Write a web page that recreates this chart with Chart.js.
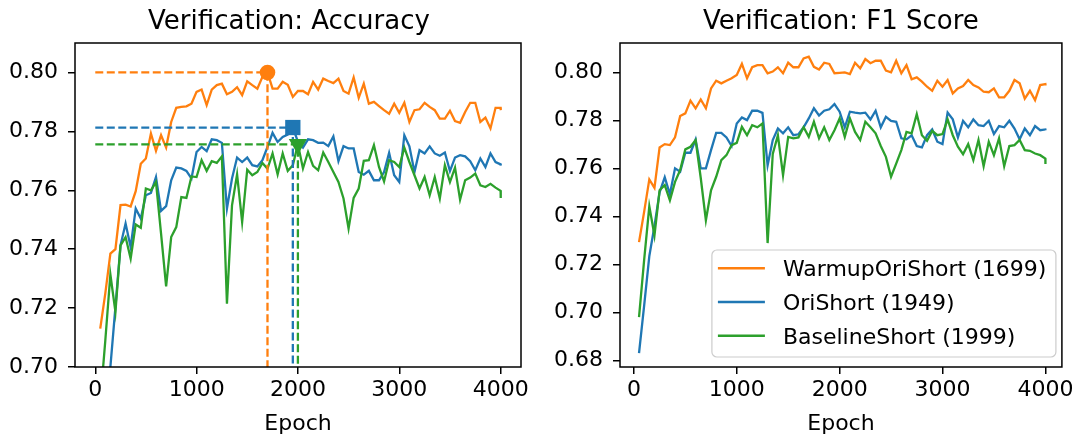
<!DOCTYPE html>
<html>
<head>
<meta charset="utf-8">
<script src="https://cdn.jsdelivr.net/npm/chart.js@4.4.1/dist/chart.umd.min.js"></script>
<style>
  html, body { margin: 0; padding: 0; background: #fff; }
  #wrap { position: relative; width: 1077px; height: 441px; }
  canvas { position: absolute; top: 0; }
  #acc { left: 0; }
  #f1 { left: 545px; }
</style>
</head>
<body>
<div id="wrap">
  <canvas id="acc" width="545" height="441"></canvas>
  <canvas id="f1" width="532" height="441"></canvas>
</div>
<script>
// epochs at which the model was evaluated
const epochs = [49,99,149,199,249,299,349,399,449,499,549,599,649,699,749,799,849,899,949,999,
  1049,1099,1149,1199,1249,1299,1349,1399,1449,1499,1549,1599,1649,1699,1749,1799,1849,1899,1949,1999,
  2049,2099,2149,2199,2249,2299,2349,2399,2449,2499,2549,2599,2649,2699,2749,2799,2849,2899,2949,2999,
  3049,3099,3149,3199,3249,3299,3349,3399,3449,3499,3549,3599,3649,3699,3749,3799,3849,3899,3949,3999,4000];

const seriesNames = ['WarmupOriShort (1699)', 'OriShort (1949)', 'BaselineShort (1999)'];
const colors = ['#ff7f0e', '#1f77b4', '#2ca02c'];

// verification accuracy
const accWarmup = [0.713,0.725,0.7385,0.740,0.755,0.7551,0.7545,0.7597,0.769,0.7708,
  0.7793,0.7734,0.7787,0.7745,0.7832,0.788,0.7883,0.7885,0.7894,0.7934,
  0.7942,0.7889,0.7942,0.7957,0.7962,0.7926,0.7934,0.795,0.7923,0.797,
  0.7957,0.7945,0.7985,0.800,0.7945,0.7945,0.7968,0.7958,0.7917,0.7937,
  0.7937,0.7926,0.7968,0.7942,0.7979,0.7971,0.7964,0.7979,0.7937,0.7928,
  0.7983,0.7914,0.7962,0.7894,0.790,0.7886,0.7872,0.786,0.7894,0.7863,
  0.7897,0.7832,0.7872,0.7875,0.7897,0.7883,0.7872,0.7843,0.7843,0.787,
  0.7835,0.7829,0.7866,0.7897,0.7897,0.7832,0.7847,0.781,0.788,0.788,0.7872];
const accOri = [0.676,0.688,0.700,0.7204,0.7413,0.7487,0.7407,0.7538,0.7504,0.7583,
  0.7591,0.7645,0.753,0.7546,0.7634,0.7677,0.7674,0.7666,0.764,0.773,
  0.7747,0.7733,0.7773,0.777,0.7761,0.7538,0.764,0.7711,0.7696,0.7711,
  0.7685,0.7681,0.7702,0.7747,0.7795,0.7764,0.7781,0.7789,0.7813,0.7765,
  0.7745,0.7773,0.777,0.7761,0.7762,0.775,0.7783,0.7699,0.775,0.7742,
  0.7742,0.7662,0.7653,0.7666,0.7634,0.7634,0.7662,0.7727,0.7651,0.7628,
  0.7787,0.7749,0.7662,0.7736,0.7725,0.7749,0.7725,0.7717,0.7728,0.7665,
  0.7711,0.7719,0.7715,0.7699,0.7668,0.7708,0.7679,0.7725,0.7696,0.7688,0.7684];
const accBase = [0.688,0.709,0.7314,0.7187,0.7413,0.7441,0.7368,0.7484,0.7473,0.7606,
  0.760,0.7628,0.7453,0.7274,0.7441,0.7475,0.7577,0.7574,0.7647,0.7645,
  0.7702,0.7666,0.7699,0.7693,0.7715,0.7215,0.7549,0.7654,0.7492,0.767,
  0.7651,0.7662,0.7693,0.7673,0.7725,0.7654,0.7725,0.7666,0.7685,0.7756,
  0.7674,0.773,0.7683,0.7668,0.7728,0.7696,0.7662,0.7628,0.7572,0.747,
  0.7574,0.7606,0.770,0.7702,0.7753,0.7679,0.763,0.7702,0.7696,0.7679,
  0.7745,0.7696,0.7651,0.7606,0.7645,0.7583,0.7645,0.7572,0.7685,0.7628,
  0.7677,0.7568,0.7634,0.7643,0.7657,0.7617,0.7611,0.7622,0.7609,0.7598,0.7574];

// verification F1 score
const f1Warmup = [0.7293,0.742,0.7554,0.7519,0.7687,0.7701,0.7697,0.7729,0.7818,0.7829,
  0.7882,0.785,0.7887,0.785,0.7933,0.7965,0.7954,0.7965,0.7975,0.7989,
  0.8035,0.7975,0.8021,0.803,0.803,0.7996,0.8003,0.8021,0.7996,0.804,
  0.8021,0.8021,0.8058,0.8065,0.8023,0.8012,0.804,0.8035,0.7996,0.7998,
  0.800,0.7993,0.804,0.8017,0.8055,0.8038,0.8048,0.8048,0.8007,0.800,
  0.8048,0.7996,0.803,0.7971,0.7979,0.7961,0.794,0.7923,0.7965,0.794,
  0.7968,0.7912,0.7933,0.7943,0.7968,0.7947,0.7937,0.7919,0.7917,0.7933,
  0.7896,0.7896,0.7923,0.7968,0.7954,0.789,0.7923,0.7884,0.7947,0.7951,0.7945];
const f1Ori = [0.6831,0.703,0.7235,0.736,0.750,0.7563,0.7492,0.760,0.7586,0.7665,
  0.7665,0.772,0.760,0.760,0.7676,0.7748,0.7748,0.7729,0.7693,0.7787,
  0.7812,0.7801,0.784,0.784,0.7831,0.7613,0.7718,0.7766,0.7746,0.7771,
  0.7738,0.7742,0.7771,0.7808,0.785,0.782,0.784,0.7846,0.7868,0.7836,
  0.7771,0.7836,0.7832,0.7829,0.7832,0.7804,0.784,0.7771,0.7815,0.7798,
  0.7794,0.7725,0.7721,0.7738,0.7693,0.7687,0.7738,0.7762,0.7711,0.7701,
  0.7832,0.7804,0.7729,0.7798,0.7771,0.7804,0.778,0.7776,0.7798,0.7743,
  0.7776,0.7771,0.7798,0.7766,0.7721,0.7766,0.7738,0.7776,0.7759,0.7762,0.7759];
const f1Base = [0.6981,0.722,0.7442,0.7321,0.7509,0.753,0.7467,0.7544,0.7593,0.7679,
  0.769,0.7718,0.756,0.7384,0.7509,0.7565,0.7634,0.7655,0.7697,0.7706,
  0.7773,0.7738,0.778,0.7771,0.7787,0.7289,0.766,0.7738,0.7572,0.7731,
  0.7725,0.7729,0.7771,0.7731,0.7794,0.7725,0.7771,0.7718,0.7759,0.7808,
  0.7731,0.7808,0.7752,0.7718,0.7794,0.7771,0.7746,0.7693,0.7648,0.7565,
  0.762,0.7676,0.7752,0.7746,0.7826,0.7738,0.7715,0.7756,0.7738,0.7743,
  0.7804,0.7738,0.769,0.7659,0.7701,0.7634,0.7718,0.7609,0.7711,0.7655,
  0.7725,0.7609,0.7693,0.7697,0.7718,0.7676,0.7673,0.7662,0.7655,0.7641,0.7618];

// best checkpoints (accuracy plot)
const bestEpochs = [1699, 1949, 1999];
const bestAcc = [0.800, 0.7813, 0.7756];
const markerStyles = ['circle', 'rect', 'triangle'];

const xTicks = [0, 1000, 2000, 3000, 4000];
const accTicks = [0.70, 0.72, 0.74, 0.76, 0.78, 0.80];
const f1Ticks = [0.68, 0.70, 0.72, 0.74, 0.76, 0.78, 0.80];

const FONT = 'DejaVu Sans';
const LW = 2.3;

function pts(vals) {
  return epochs.map((e, i) => ({ x: e, y: vals[i] }));
}

function lineSet(label, vals, color, order) {
  return {
    label: label, data: pts(vals), borderColor: color, backgroundColor: color,
    borderWidth: LW, pointRadius: 0, tension: 0, fill: false, order: order
  };
}

// top/right spines and axes title
const frame = {
  id: 'frame',
  afterDatasetsDraw(chart) {
    const { ctx, chartArea: a } = chart;
    ctx.save();
    ctx.strokeStyle = '#000';
    ctx.lineWidth = 1.5;
    ctx.strokeRect(a.left, a.top, a.right - a.left, a.bottom - a.top);
    ctx.restore();
  },
  afterDraw(chart, args, opts) {
    const { ctx, chartArea: a } = chart;
    ctx.save();
    ctx.font = "26px '" + FONT + "'";
    ctx.fillStyle = '#000';
    ctx.textAlign = 'center';
    ctx.textBaseline = 'alphabetic';
    ctx.fillText(opts.text, (a.left + a.right) / 2 + (opts.dx || 0), 29);
    ctx.restore();
  }
};

// matplotlib-like legend in the lower right corner
const legendBox = {
  id: 'legendBox',
  afterDraw(chart) {
    const { ctx, chartArea: a } = chart;
    const w = 344, h = 107, r = 5;
    const x0 = a.right - 6 - w, y0 = a.bottom - 10 - h;
    ctx.save();
    ctx.beginPath();
    ctx.moveTo(x0 + r, y0);
    ctx.arcTo(x0 + w, y0, x0 + w, y0 + h, r);
    ctx.arcTo(x0 + w, y0 + h, x0, y0 + h, r);
    ctx.arcTo(x0, y0 + h, x0, y0, r);
    ctx.arcTo(x0, y0, x0 + w, y0, r);
    ctx.closePath();
    ctx.fillStyle = 'rgba(255,255,255,0.8)';
    ctx.fill();
    ctx.strokeStyle = '#cccccc';
    ctx.lineWidth = 1.2;
    ctx.stroke();
    ctx.font = "22px '" + FONT + "'";
    ctx.textAlign = 'left';
    ctx.textBaseline = 'alphabetic';
    seriesNames.forEach((name, i) => {
      const cy = y0 + 18.3 + i * 33.7;
      ctx.strokeStyle = colors[i];
      ctx.lineWidth = LW + 0.3;
      ctx.beginPath();
      ctx.moveTo(x0 + 6, cy);
      ctx.lineTo(x0 + 53, cy);
      ctx.stroke();
      ctx.fillStyle = '#000';
      ctx.fillText(name, x0 + 71, cy + 8);
    });
    ctx.restore();
  }
};

function axes(xmin, xmax, ymin, ymax, yTicks) {
  const tickFont = { family: FONT, size: 22 };
  const grid = { drawOnChartArea: false, drawTicks: true, tickLength: 7, color: '#000', lineWidth: 1.5 };
  return {
    x: {
      type: 'linear', min: xmin, max: xmax,
      afterBuildTicks: s => { s.ticks = xTicks.map(v => ({ value: v })); },
      afterFit: s => { s.height = 74; },
      ticks: { font: tickFont, color: '#000', padding: 3, maxRotation: 0, callback: v => String(v) },
      grid: grid,
      border: { display: false },
      title: { display: true, text: 'Epoch', font: tickFont, color: '#000', padding: { top: 0, bottom: 4 } }
    },
    y: {
      type: 'linear', min: ymin, max: ymax,
      afterBuildTicks: s => { s.ticks = yTicks.map(v => ({ value: v })); },
      afterFit: s => { s.width = 75; },
      ticks: { font: tickFont, color: '#000', padding: 10, callback: v => v.toFixed(2) },
      grid: grid,
      border: { display: false }
    }
  };
}

// accuracy plot: series, dashed guides to the best epoch, markers
const accSets = [
  lineSet(seriesNames[0], accWarmup, colors[0], 6),
  lineSet(seriesNames[1], accOri, colors[1], 5),
  lineSet(seriesNames[2], accBase, colors[2], 4)
];
bestEpochs.forEach((ep, i) => {
  accSets.push({
    label: 'guide' + i,
    data: [{ x: 0, y: bestAcc[i] }, { x: ep, y: bestAcc[i] }, { x: ep, y: 0.70 }],
    borderColor: colors[i], borderWidth: LW, borderDash: [8, 3.5],
    pointRadius: 0, tension: 0, fill: false, order: 3 - i * 0.1
  });
});
bestEpochs.forEach((ep, i) => {
  accSets.push({
    label: 'best' + i,
    data: [{ x: ep, y: bestAcc[i] }],
    showLine: false,
    pointStyle: markerStyles[i],
    pointRadius: [7.8, 10.8, 10.5][i],
    pointRotation: i === 2 ? 180 : 0,
    pointBackgroundColor: colors[i], pointBorderWidth: 0,
    order: 1 - i * 0.1
  });
});

new Chart(document.getElementById('acc'), {
  type: 'line',
  data: { datasets: accSets },
  options: {
    responsive: false, animation: false, devicePixelRatio: 1,
    layout: { padding: { left: 0, right: 24, top: 43, bottom: 0 } },
    plugins: { legend: { display: false }, tooltip: { enabled: false }, title: { display: false },
      frame: { text: 'Verification: Accuracy', dx: -9 } },
    scales: axes(-200, 4200, 0.70, 0.81, accTicks)
  },
  plugins: [frame]
});

new Chart(document.getElementById('f1'), {
  type: 'line',
  data: {
    datasets: [
      lineSet(seriesNames[0], f1Warmup, colors[0], 3),
      lineSet(seriesNames[1], f1Ori, colors[1], 2),
      lineSet(seriesNames[2], f1Base, colors[2], 1)
    ]
  },
  options: {
    responsive: false, animation: false, devicePixelRatio: 1,
    layout: { padding: { left: 0, right: 15, top: 43, bottom: 0 } },
    plugins: { legend: { display: false }, tooltip: { enabled: false }, title: { display: false },
      frame: { text: 'Verification: F1 Score', dx: 0 } },
    scales: axes(-136, 4160, 0.6773, 0.8122, f1Ticks)
  },
  plugins: [frame, legendBox]
});
</script>
</body>
</html>
